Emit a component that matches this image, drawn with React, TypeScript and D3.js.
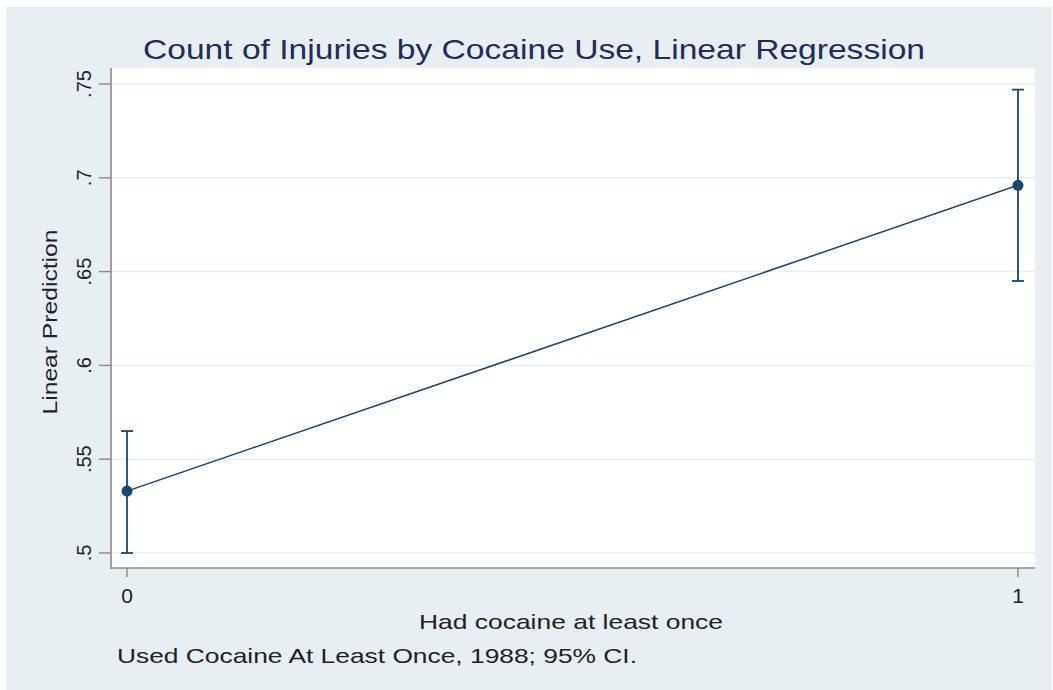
import React from "react";
import * as d3 from "d3";

// Predictive margins from a linear regression of injury counts on cocaine use
const categories: number[] = [0, 1];
const margins: number[] = [0.533, 0.696];
const ciLower: number[] = [0.5, 0.645];
const ciUpper: number[] = [0.565, 0.747];
const yTicks: number[] = [0.5, 0.55, 0.6, 0.65, 0.7, 0.75];
const yTickLabels: string[] = [".5", ".55", ".6", ".65", ".7", ".75"];
const xTickLabels: string[] = ["0", "1"];

const W = 1053;
const H = 690;
const FONT = "'Liberation Sans', Arial, Helvetica, sans-serif";
const NAVY = "#1a476f";

export default function App() {
  const x = d3.scaleLinear().domain([0, 1]).range([127, 1018]);
  const y = d3.scaleLinear().domain([0.5, 0.75]).range([553, 84]);

  const pts = categories.map((c, i) => ({ c, m: margins[i], lo: ciLower[i], hi: ciUpper[i] }));
  const line = d3
    .line<{ c: number; m: number }>()
    .x((d) => x(d.c))
    .y((d) => y(d.m));

  const plotLeft = 111;
  const plotRight = 1035;
  const plotTop = 68;
  const plotBottom = 568;

  return (
    <svg
      width={W}
      height={H}
      style={{ position: "absolute", left: 0, top: 0, display: "block" }}
      fontFamily={FONT}
    >
      <rect x={0} y={0} width={W} height={H} fill="#ffffff" />
      {/* graph region */}
      <rect x={6} y={7} width={1046} height={683} fill="#e8eff2" />
      {/* plot region */}
      <rect x={plotLeft} y={plotTop} width={plotRight - plotLeft} height={plotBottom - plotTop} fill="#ffffff" />

      {/* horizontal grid lines */}
      {yTicks.map((t) => (
        <line key={"g" + t} x1={plotLeft + 1} x2={plotRight} y1={y(t)} y2={y(t)} stroke="#e8f0f2" strokeWidth={1.5} />
      ))}

      {/* axes */}
      <line x1={plotLeft} x2={plotLeft} y1={plotTop} y2={plotBottom + 1} stroke="#8a8a8a" strokeWidth={1.6} />
      <line x1={plotLeft} x2={plotRight} y1={plotBottom} y2={plotBottom} stroke="#8a8a8a" strokeWidth={1.6} />

      {/* y ticks and labels */}
      {yTicks.map((t, i) => (
        <g key={"y" + t}>
          <line x1={plotLeft - 12} x2={plotLeft} y1={y(t)} y2={y(t)} stroke="#8a8a8a" strokeWidth={1.4} />
          <text
            transform={`translate(91,${y(t)}) rotate(-90)`}
            textAnchor="middle"
            fontSize={20}
            fill="#222"
          >
            {yTickLabels[i]}
          </text>
        </g>
      ))}

      {/* x ticks and labels */}
      {categories.map((c, i) => (
        <g key={"x" + c}>
          <line x1={x(c)} x2={x(c)} y1={plotBottom} y2={plotBottom + 9} stroke="#8a8a8a" strokeWidth={1.4} />
          <text x={x(c)} y={603} textAnchor="middle" fontSize={21} fill="#222">
            {xTickLabels[i]}
          </text>
        </g>
      ))}

      {/* connecting line */}
      <path d={line(pts) ?? ""} fill="none" stroke={NAVY} strokeWidth={1.5} />

      {/* confidence intervals */}
      {pts.map((p) => (
        <g key={"ci" + p.c} stroke={NAVY} strokeWidth={1.8}>
          <line x1={x(p.c)} x2={x(p.c)} y1={y(p.lo)} y2={y(p.hi)} />
          <line x1={x(p.c) - 6} x2={x(p.c) + 6} y1={y(p.lo)} y2={y(p.lo)} />
          <line x1={x(p.c) - 6} x2={x(p.c) + 6} y1={y(p.hi)} y2={y(p.hi)} />
        </g>
      ))}

      {/* point estimates */}
      {pts.map((p) => (
        <circle key={"m" + p.c} cx={x(p.c)} cy={y(p.m)} r={5.5} fill={NAVY} />
      ))}

      {/* titles */}
      <text
        x={534}
        y={59}
        textAnchor="middle"
        fontSize={28}
        fill="#1e2d5a"
        textLength={782}
        lengthAdjust="spacingAndGlyphs"
      >
        Count of Injuries by Cocaine Use, Linear Regression
      </text>
      <text
        transform="translate(57,322) rotate(-90)"
        textAnchor="middle"
        fontSize={20}
        fill="#222"
        textLength={185}
        lengthAdjust="spacingAndGlyphs"
      >
        Linear Prediction
      </text>
      <text
        x={571}
        y={629}
        textAnchor="middle"
        fontSize={21}
        fill="#222"
        textLength={304}
        lengthAdjust="spacingAndGlyphs"
      >
        Had cocaine at least once
      </text>
      <text
        x={117}
        y={663}
        textAnchor="start"
        fontSize={21}
        fill="#222"
        textLength={520}
        lengthAdjust="spacingAndGlyphs"
      >
        Used Cocaine At Least Once, 1988; 95% CI.
      </text>
    </svg>
  );
}
